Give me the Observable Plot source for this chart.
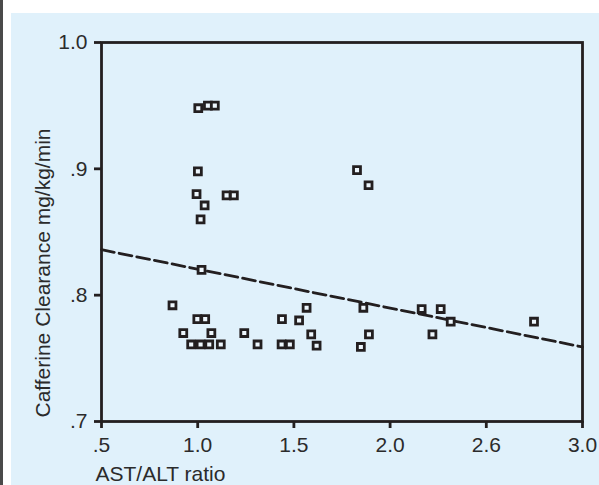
<!DOCTYPE html>
<html>
<head>
<meta charset="utf-8">
<script src="https://cdn.jsdelivr.net/npm/d3@7"></script>
<script src="https://cdn.jsdelivr.net/npm/@observablehq/plot@0.6"></script>
<style>
  html, body { margin: 0; padding: 0; background: #ffffff; width: 599px; height: 485px; overflow: hidden; }
  #strip { position: absolute; left: 0; top: 0; width: 3px; height: 485px; background: #4a4a4a; }
  #panel { position: absolute; left: 11px; top: 13px; width: 588px; height: 472px; background: #e0f1fb; }
  #chart { position: absolute; left: 0; top: 0; }
</style>
</head>
<body>
<div id="strip"></div>
<div id="panel"></div>
<div id="chart"></div>
<script>
// AST/ALT ratio (x) and caffeine clearance (y) for each patient
const astAltRatio = [1.003, 1.053, 1.089, 1.001, 0.994, 1.036, 1.015, 1.150, 1.188,
  1.020, 0.869, 0.998, 1.039, 0.925, 1.071, 0.966, 1.015, 1.060, 1.120,
  1.242, 1.311, 1.438, 1.436, 1.479, 1.527, 1.566, 1.590, 1.618,
  1.861, 1.890, 1.848, 2.164, 2.263, 2.220, 2.315, 2.748, 1.828, 1.888];
const clearance = [0.948, 0.950, 0.950, 0.898, 0.880, 0.871, 0.860, 0.879, 0.879,
  0.820, 0.792, 0.781, 0.781, 0.770, 0.770, 0.761, 0.761, 0.761, 0.761,
  0.770, 0.761, 0.781, 0.761, 0.761, 0.780, 0.790, 0.769, 0.760,
  0.790, 0.769, 0.759, 0.789, 0.789, 0.769, 0.779, 0.779, 0.899, 0.887];

// Regression line end points
const fitX = [0.5, 3.0];
const fitY = [0.836, 0.759];

// Axis ticks and their printed labels
const xTicks = [0.5, 1.0, 1.5, 2.0, 2.5, 3.0];
const xTickLabels = [".5", "1.0", "1.5", "2.0", "2.6", "3.0"];
const yTicks = [0.7, 0.8, 0.9, 1.0];
const yTickLabels = [".7", ".8", ".9", "1.0"];

const xTitle = "AST/ALT ratio";
const yTitle = "Cafferine Clearance mg/kg/min";

const points = astAltRatio.map((x, i) => ({x, y: clearance[i]}));
const fit = fitX.map((x, i) => ({x, y: fitY[i]}));

const ink = "#231f20";
const textColor = "#2b2b2b";
const fs = 21;

const chart = Plot.plot({
  width: 599,
  height: 485,
  marginLeft: 101,
  marginRight: 17,
  marginTop: 42,
  marginBottom: 64,
  style: {
    background: "transparent",
    color: textColor,
    fontFamily: "'Liberation Sans', Arial, Helvetica, sans-serif",
    fontSize: "21px",
    overflow: "visible"
  },
  x: {domain: [0.5, 3.0]},
  y: {domain: [0.7, 1.0]},
  marks: [
    Plot.frame({stroke: ink, strokeWidth: 2.8}),
    Plot.axisX({
      ticks: xTicks,
      tickFormat: d => xTickLabels[xTicks.findIndex(t => Math.abs(t - d) < 1e-9)],
      tickSize: 7, tickPadding: 9, stroke: ink, strokeWidth: 2.8, fill: textColor,
      fontSize: fs, label: null
    }),
    Plot.axisY({
      ticks: yTicks,
      tickFormat: d => yTickLabels[yTicks.findIndex(t => Math.abs(t - d) < 1e-9)],
      tickSize: 7, tickPadding: 7, stroke: ink, strokeWidth: 2.8, fill: textColor,
      fontSize: fs, label: null
    }),
    Plot.line(fit, {x: "x", y: "y", stroke: ink, strokeWidth: 2.8, strokeDasharray: "13,5"}),
    Plot.dot(points, {x: "x", y: "y", symbol: "square", r: 3.9, stroke: ink, strokeWidth: 2.8, fill: "#eef7fd"}),
    Plot.text([xTitle], {text: d => d, frameAnchor: "bottom-left", textAnchor: "start", lineAnchor: "middle", dx: -6, dy: 53, fill: textColor, fontSize: fs}),
    Plot.text([yTitle], {text: d => d, frameAnchor: "left", rotate: -90, textAnchor: "middle", lineAnchor: "middle", dx: -58, dy: 41, fill: textColor, fontSize: fs})
  ]
});
document.getElementById("chart").appendChild(chart);
</script>
</body>
</html>
